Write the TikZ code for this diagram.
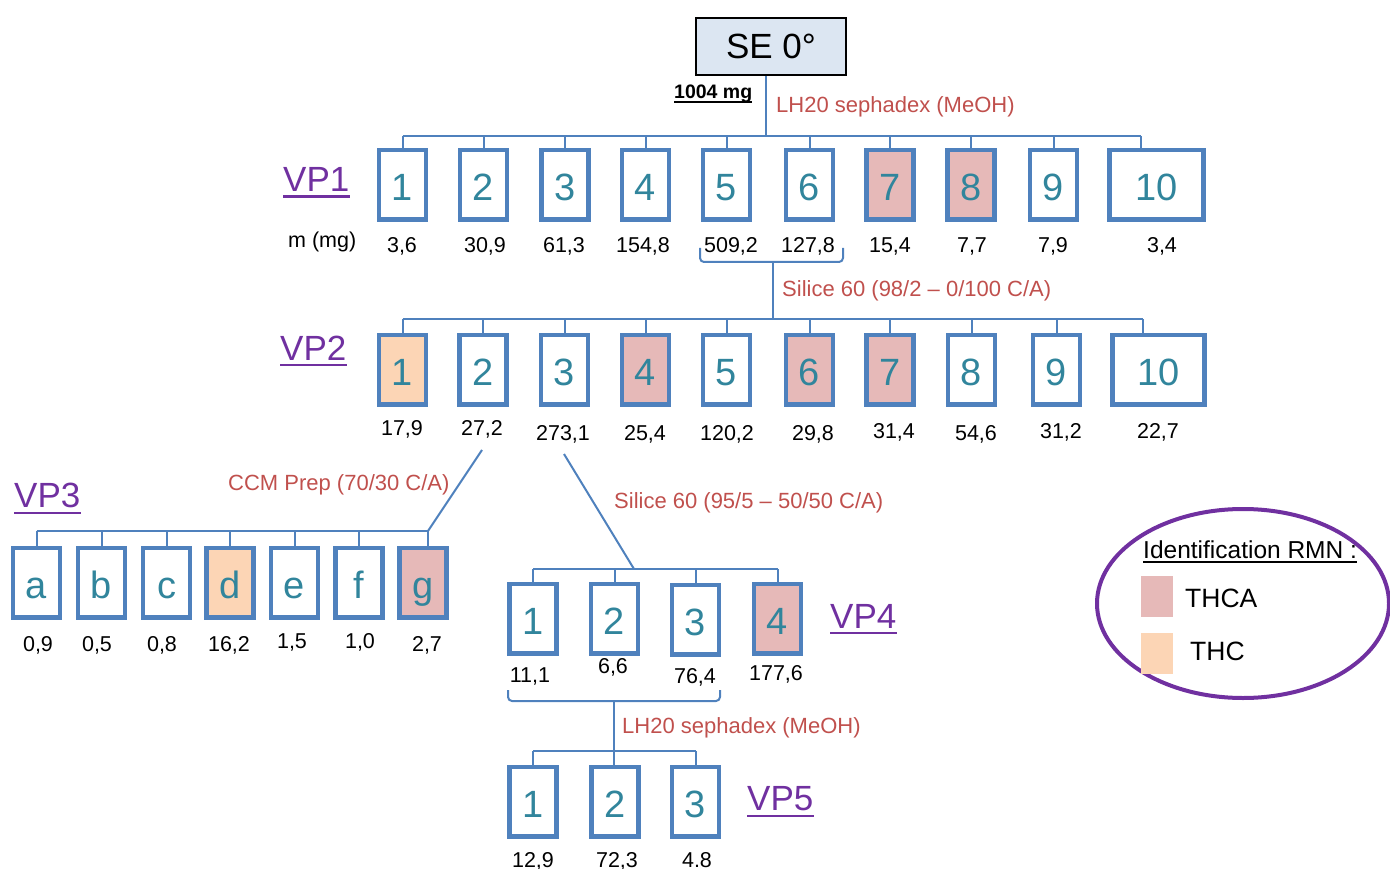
\documentclass[tikz,border=0pt]{standalone}
\usepackage{fontspec}
\setmainfont{Liberation Sans}
\usetikzlibrary{shapes.geometric}
\definecolor{boxblue}{HTML}{4F81BD}
\definecolor{tealtext}{HTML}{31859C}
\definecolor{redtext}{HTML}{C0504D}
\definecolor{vpC}{HTML}{7030A0}
\definecolor{thcaC}{HTML}{E6B9B8}
\definecolor{thcC}{HTML}{FCD5B5}
\definecolor{seC}{HTML}{DCE6F2}
\begin{document}
\begin{tikzpicture}[x=1pt,y=-1pt,
  fr/.style={draw=boxblue, line width=4.5pt, minimum width=47pt, minimum height=69.5pt,
    inner sep=0pt, text=tealtext, font=\fontsize{38}{40}\selectfont,
    text height=31pt, text depth=0pt, fill=white},
  wide/.style={minimum width=94pt},
  thca/.style={fill=thcaC},
  thc/.style={fill=thcC},
  conn/.style={draw=boxblue, line width=2pt},
  mass/.style={font=\fontsize{21.5}{24}\selectfont, inner sep=0pt, anchor=base},
  method/.style={font=\fontsize{22}{24}\selectfont, text=redtext, inner sep=0pt, anchor=base west},
  vp/.style={text=vpC, font=\fontsize{35}{40}\selectfont, inner sep=0pt, anchor=base west},
  vpline/.style={draw=vpC, line width=2.5pt},
  legtext/.style={font=\fontsize{26.5}{30}\selectfont, inner sep=0pt, anchor=base west},
]
\useasboundingbox (0,0) rectangle (1390,869);

% ---------- top ----------
\node[draw=black, line width=2pt, fill=seC, minimum width=150pt, minimum height=57pt,
  font=\fontsize{35}{40}\selectfont, inner sep=0pt] (se) at (771,46.5) {SE 0°\hspace{12pt}};
\node[font=\bfseries\fontsize{19.5}{22}\selectfont, inner sep=0pt, anchor=base west] (se-m) at (674,99) {1004 mg};
\draw[line width=1.5pt] ([yshift=-3pt]se-m.base west) -- ([yshift=-3pt]se-m.base east);
\node[method] (meth1) at (776,113) {LH20 sephadex (MeOH)};

% ---------- VP1 ----------
\coordinate (b1) at (766,136);
\coordinate (b1e) at (1141,136);
\node[fr] (v1a) at (402.5,185) {1};
\node[fr] (v1b) at (483.5,185) {2};
\node[fr] (v1c) at (565,185) {3};
\node[fr] (v1d) at (645.5,185) {4};
\node[fr] (v1e) at (726.5,185) {5};
\node[fr] (v1f) at (809.5,185) {6};
\node[fr,thca] (v1g) at (890,185) {7};
\node[fr,thca] (v1h) at (971,185) {8};
\node[fr] (v1i) at (1053.5,185) {9};
\node[fr,wide] (v1j) at (1156.5,185) {10};
\draw[conn] (b1 |- se.south) -- (b1);
\draw[conn] (v1a.north |- b1) -- (b1e);
\foreach \n in {a,b,c,d,e,f,g,h,i} \draw[conn] (v1\n.north) -- (v1\n.north |- b1);
\draw[conn] (b1e) -- (b1e |- v1j.north);

\node[vp] (vp1) at (283,192) {VP1};
\draw[vpline] ([yshift=-4.5pt]vp1.base west) -- ([yshift=-4.5pt]vp1.base east);
\node[mass, anchor=base west] (munit) at (288,248) {m (mg)};
\node[mass] (m1a) at (402,253) {3,6};
\node[mass] (m1b) at (485,253) {30,9};
\node[mass] (m1c) at (564,253) {61,3};
\node[mass] (m1d) at (643,253) {154,8};
\node[mass] (m1e) at (731,253) {509,2};
\node[mass] (m1f) at (808,253) {127,8};
\node[mass] (m1g) at (890,253) {15,4};
\node[mass] (m1h) at (972,253) {7,7};
\node[mass] (m1i) at (1053,253) {7,9};
\node[mass] (m1j) at (1162,253) {3,4};

% bracket under 5 & 6
\coordinate (k1l) at (700,248);
\coordinate (k1r) at (843,248);
\coordinate (k1m) at (773,262);
\coordinate (b2) at (773,319);
\draw[conn, rounded corners=4pt] (k1l) |- (k1m) -| (k1r);
\draw[conn] (k1m) -- (b2);
\node[method] (meth2) at (782,297) {Silice 60 (98/2 – 0/100 C/A)};

% ---------- VP2 ----------
\coordinate (b2e) at (1143,319);
\node[fr,thc] (v2a) at (402.5,369.5) {1};
\node[fr] (v2b) at (483,369.5) {2};
\node[fr] (v2c) at (564.5,369.5) {3};
\node[fr,thca] (v2d) at (645.5,369.5) {4};
\node[fr] (v2e) at (726.5,369.5) {5};
\node[fr,thca] (v2f) at (809.5,369.5) {6};
\node[fr,thca] (v2g) at (890,369.5) {7};
\node[fr] (v2h) at (971.5,369.5) {8};
\node[fr] (v2i) at (1056.5,369.5) {9};
\node[fr,minimum width=92pt] (v2j) at (1158.5,369.5) {10};
\draw[conn] (v2a.north |- b2) -- (b2e);
\foreach \n in {a,b,c,d,e,f,g,h,i} \draw[conn] (v2\n.north) -- (v2\n.north |- b2);
\draw[conn] (b2e) -- (b2e |- v2j.north);

\node[vp] (vp2) at (280,360) {VP2};
\draw[vpline] ([yshift=-5pt]vp2.base west) -- ([yshift=-5pt]vp2.base east);
\node[mass] (m2a) at (402,435) {17,9};
\node[mass] (m2b) at (482,435) {27,2};
\node[mass] (m2c) at (563,440) {273,1};
\node[mass] (m2d) at (645,440) {25,4};
\node[mass] (m2e) at (727,440) {120,2};
\node[mass] (m2f) at (813,440) {29,8};
\node[mass] (m2g) at (894,438) {31,4};
\node[mass] (m2h) at (976,440) {54,6};
\node[mass] (m2i) at (1061,438) {31,2};
\node[mass] (m2j) at (1158,438) {22,7};

% ---------- VP3 ----------
\coordinate (d3s) at (482,450);
\coordinate (b3) at (428,531);
\draw[conn] (d3s) -- (b3);
\node[method] (meth3) at (228,490) {CCM Prep (70/30 C/A)};
\node[fr] (v3a) at (36.5,582.5) {a};
\node[fr] (v3b) at (101.5,582.5) {b};
\node[fr] (v3c) at (166.5,582.5) {c};
\node[fr,thc] (v3d) at (230,582.5) {d};
\node[fr] (v3e) at (294.5,582.5) {e};
\node[fr] (v3f) at (359,582.5) {f};
\node[fr,thca] (v3g) at (423,582.5) {g};
\draw[conn] (v3a.north |- b3) -- (b3);
\foreach \n in {a,b,c,d,e,f} \draw[conn] (v3\n.north) -- (v3\n.north |- b3);
\draw[conn] (b3) -- (b3 |- v3g.north);
\node[vp] (vp3) at (14,507) {VP3};
\draw[vpline] ([yshift=-6pt]vp3.base west) -- ([yshift=-6pt]vp3.base east);
\node[mass] (m3a) at (38,651) {0,9};
\node[mass] (m3b) at (97,651) {0,5};
\node[mass] (m3c) at (162,651) {0,8};
\node[mass] (m3d) at (229,651) {16,2};
\node[mass] (m3e) at (292,648) {1,5};
\node[mass] (m3f) at (360,648) {1,0};
\node[mass] (m3g) at (427,651) {2,7};

% ---------- VP4 ----------
\coordinate (d4s) at (564,454);
\coordinate (b4) at (634,569);
\draw[conn] (d4s) -- (b4);
\node[method] (meth4) at (614,508) {Silice 60 (95/5 – 50/50 C/A)};
\node[fr] (v4a) at (533,618.5) {1};
\node[fr] (v4b) at (614.5,618.5) {2};
\node[fr] (v4c) at (695.5,619.5) {3};
\node[fr,thca] (v4d) at (777.5,618.5) {4};
\draw[conn] (v4a.north |- b4) -- (v4d.north |- b4);
\foreach \n in {a,b,c,d} \draw[conn] (v4\n.north) -- (v4\n.north |- b4);
\node[vp] (vp4) at (830,628) {VP4};
\draw[vpline] ([yshift=-5pt]vp4.base west) -- ([yshift=-5pt]vp4.base east);
\node[mass] (m4a) at (530,682) {11,1};
\node[mass] (m4b) at (613,673) {6,6};
\node[mass] (m4c) at (695,683) {76,4};
\node[mass] (m4d) at (776,680) {177,6};

% bracket under VP4
\coordinate (k4l) at (508,690);
\coordinate (k4r) at (720,690);
\coordinate (k4m) at (614,701);
\coordinate (b5) at (614,751);
\draw[conn, rounded corners=4pt] (k4l) |- (k4m) -| (k4r);
\node[method] (meth5) at (622,733) {LH20 sephadex (MeOH)};

% ---------- VP5 ----------
\node[fr] (v5a) at (533,801.5) {1};
\node[fr] (v5b) at (615,801.5) {2};
\node[fr] (v5c) at (695.5,801.5) {3};
\draw[conn] (k4m) -- (b5 |- v5b.north);
\draw[conn] (v5a.north |- b5) -- (v5c.north |- b5);
\foreach \n in {a,c} \draw[conn] (v5\n.north) -- (v5\n.north |- b5);
\node[vp] (vp5) at (747,810) {VP5};
\draw[vpline] ([yshift=-6pt]vp5.base west) -- ([yshift=-6pt]vp5.base east);
\node[mass] (m5a) at (533,867) {12,9};
\node[mass] (m5b) at (617,867) {72,3};
\node[mass] (m5c) at (697,867) {4.8};

% ---------- legend ----------
\node[ellipse, draw=vpC, line width=4pt, minimum width=292pt, minimum height=189pt, inner sep=0pt] (legend) at (1243,603.5) {};
\node[font=\fontsize{24.5}{28}\selectfont, inner sep=0pt, anchor=base west] (legtitle) at (1143,558) {Identification RMN :};
\draw[line width=1.5pt] ([yshift=-4pt]legtitle.base west) -- ([yshift=-4pt]legtitle.base east);
\node[fill=thcaC, minimum width=32pt, minimum height=41pt, inner sep=0pt] (sw1) at (1157,596.5) {};
\node[legtext] (lt1) at (1185,607) {THCA};
\node[fill=thcC, minimum width=32pt, minimum height=41pt, inner sep=0pt] (sw2) at (1157,653.5) {};
\node[legtext] (lt2) at (1190,660) {THC};
\end{tikzpicture}
\end{document}
